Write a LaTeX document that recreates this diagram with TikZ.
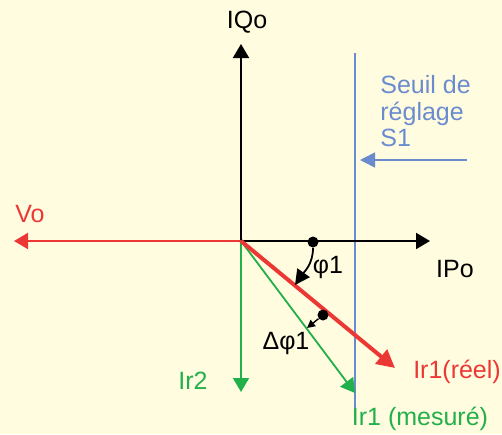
\documentclass[tikz,border=0pt]{standalone}
\usepackage{fontspec}
\setmainfont{Liberation Sans}
\usetikzlibrary{arrows.meta}

\definecolor{fond}{RGB}{255,252,224}
\definecolor{rouge}{RGB}{236,56,52}
\definecolor{vert}{RGB}{34,176,74}
\definecolor{bleu}{RGB}{106,140,207}

\begin{document}
\begin{tikzpicture}[x=0.5pt,y=-0.5pt,
        every node/.style={font=\fontsize{12.5}{13.3}\selectfont},
        axe/.style={line width=1pt,-{Triangle[length=7pt,width=8pt]}},
        pointe/.style={fill=black,circle,inner sep=0pt,minimum size=5.5pt}]
            \fill[fond] (0,0) rectangle (502,434);
            \useasboundingbox (0,0) rectangle (502,434);

            \coordinate (O) at (241,241);
            \coordinate (Q) at (241,44);
            \coordinate (P) at (430,241);
            \coordinate (V) at (14,241);

            \coordinate (R) at (395,368);
            \coordinate (M) at (355,393);
            \coordinate (N) at (241,392);

            \coordinate (Shaut) at (355,53);
            \coordinate (Sbas) at (355,410);
            \coordinate (Fa) at (467,160);
            \coordinate (Fb) at (360,160);

            % seuil
            \draw[bleu,line width=0.8pt] (Shaut)--(Sbas);
            \draw[bleu,line width=0.8pt,-{Triangle[length=7.5pt,width=7.5pt]}] (Fa)--(Fb);
            \node[bleu,anchor=north west,align=left,inner sep=0pt] (seuil) at (380,75)
                {Seuil de\\r\'eglage\\S1};

            % axes
            \draw[axe] (O)--(Q);
            \draw[axe] (O)--(P);
            \draw[rouge,axe] (O)--(V);

            % courants
            \draw[vert,line width=0.9pt,-{Triangle[length=7pt,width=8pt]}] (O)--(N);
            \draw[vert,line width=0.9pt,-{Triangle[length=7pt,width=8pt]}] (O)--(M);
            \draw[rouge,line width=2pt,-{Triangle[length=9pt,width=9pt]}] (O)--(R);

            % angles
            \node[pointe] (d1) at (313,242) {};
            \coordinate (e1) at (295,285);
            \draw[line width=0.9pt,-{Triangle[length=7.5pt,width=7.5pt]}] (d1) to[out=-90,in=55] (e1);
            \node[pointe] (d2) at (323,315) {};
            \coordinate (e2) at (307,328);
            \draw[line width=0.7pt,-{Triangle[length=4pt,width=4pt]}] (d2)--(e2);

            \node (IQo) at (247,22) {IQo};
            \node (IPo) at (455,269) {IPo};
            \node[rouge] (Vo) at (30,214) {Vo};
            \node (phi) at (328,267) {φ1};
            \node (dphi) at (286,343) {Δφ1};
            \node[rouge] (reel) at (457,372) {Ir1(r\'eel)};
            \node[vert] (Ir2) at (193,381) {Ir2};
            \node[vert] (mes) at (420,419) {Ir1 (mesur\'e)};
        \end{tikzpicture}
\end{document}
